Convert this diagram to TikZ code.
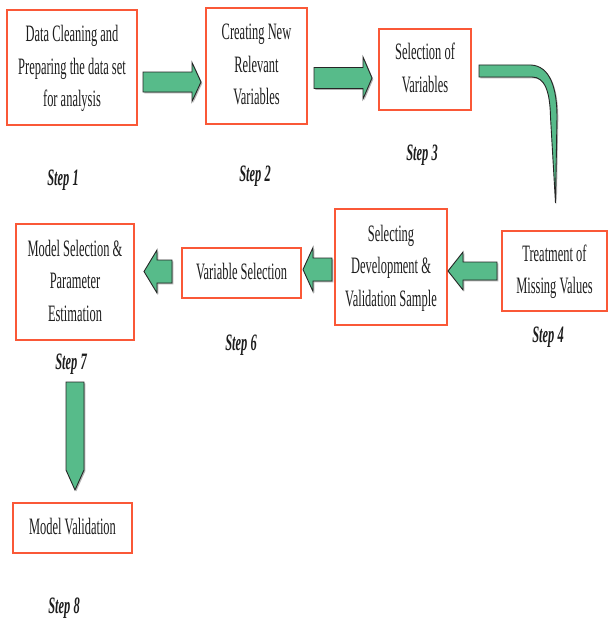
\documentclass[tikz,border=0pt]{standalone}
\usepackage{fontspec}
\setmainfont{Liberation Serif}
\usepackage{graphicx}
\definecolor{boxred}{RGB}{250,88,55}
\definecolor{arrgreen}{RGB}{87,187,138}
\definecolor{txtc}{RGB}{30,30,30}
\newcommand\sqz[1]{\scalebox{0.53}[1]{\begin{tabular}{@{}c@{}}#1\end{tabular}}}
\newcommand\steptxt[1]{\scalebox{0.53}[1]{\bfseries\itshape #1}}
% block arrow: x0, x shaft end, x tip, y centre, shaft half, head half
\newcommand\harr[6]{%
  \fill[arrshadow] (#1,#4-#5) -- (#2,#4-#5) -- (#2,#4-#6) -- (#3,#4) -- (#2,#4+#6) -- (#2,#4+#5) -- (#1,#4+#5) -- cycle;
  \filldraw[blockarrow] (#1,#4-#5) -- (#2,#4-#5) -- (#2,#4-#6) -- (#3,#4) -- (#2,#4+#6) -- (#2,#4+#5) -- (#1,#4+#5) -- cycle;}
\begin{document}
\begin{tikzpicture}[x=1pt,y=-1pt,
  box/.style 2 args={draw=boxred,line width=1.4pt,fill=white,inner sep=0pt,
    minimum width=#1pt,minimum height=#2pt,text=txtc,
    font=\fontsize{23.5}{32.5}\selectfont},
  steplbl/.style={inner sep=0pt,text=txtc,font=\fontsize{23.5}{28}\selectfont},
  blockarrow/.style={fill=arrgreen,draw=black!85,line width=0.9pt,line join=miter},
  arrshadow/.style={fill=black!55,opacity=0.55,xshift=1.3pt,yshift=-1.3pt}]
\useasboundingbox[fill=white] (0,0) rectangle (608,626);

% boxes
\node[box={130}{115}] (b1) at (72,67.5) {\sqz{Data Cleaning and\\Preparing the data set\\for analysis}};
\node[box={101}{116}] (b2) at (256.5,66) {\sqz{Creating New\\Relevant\\Variables}};
\node[box={92}{81}] (b3) at (425,69.5) {\sqz{Selection of\\Variables}};
\node[box={105}{80}] (b4) at (554.5,271) {\sqz{Treatment of\\Missing Values}};
\node[box={112}{116}] (b5) at (391,267) {\sqz{Selecting\\Development \&\\Validation Sample}};
\node[box={119}{50}] (b6) at (241.5,273) {\sqz{Variable Selection}};
\node[box={118}{116}] (b7) at (75,282) {\sqz{Model Selection \&\\Parameter\\Estimation}};
\node[box={119}{50}] (b8) at (72.5,528) {\sqz{Model Validation}};

% step labels
\node[steplbl] (s1) at (63,180) {\steptxt{Step 1}};
\node[steplbl] (s2) at (255,176) {\steptxt{Step 2}};
\node[steplbl] (s3) at (422,155) {\steptxt{Step 3}};
\node[steplbl] (s4) at (548,337) {\steptxt{Step 4}};
\node[steplbl] (s6) at (241,345) {\steptxt{Step 6}};
\node[steplbl] (s7) at (71,364) {\steptxt{Step 7}};
\node[steplbl] (s8) at (64,608) {\steptxt{Step 8}};

% block arrows
\harr{143}{192}{201}{82}{10}{19.5}
\harr{314}{363}{372}{78}{10.5}{21}
\harr{497}{463}{448}{271}{9}{19}
\harr{332}{313}{303}{269.5}{11.5}{22}
\harr{172}{157}{144}{271.5}{11.5}{21.5}

% down arrow
\fill[arrshadow] (66,382) -- (84,382) -- (84,470) -- (75,490) -- (66,470) -- cycle;
\filldraw[blockarrow] (66,382) -- (84,382) -- (84,470) -- (75,490) -- (66,470) -- cycle;

% curved tapered arrow
\fill[arrshadow] (479,65) -- (531,65) .. controls (550,66) and (557,88) .. (557,117)
  -- (555.5,203) -- (550.5,117) .. controls (550,92) and (545,77) .. (532,77) -- (479,77) -- cycle;
\filldraw[blockarrow] (479,65) -- (531,65) .. controls (550,66) and (557,88) .. (557,117)
  -- (555.5,203) -- (550.5,117) .. controls (550,92) and (545,77) .. (532,77) -- (479,77) -- cycle;
\end{tikzpicture}
\end{document}
